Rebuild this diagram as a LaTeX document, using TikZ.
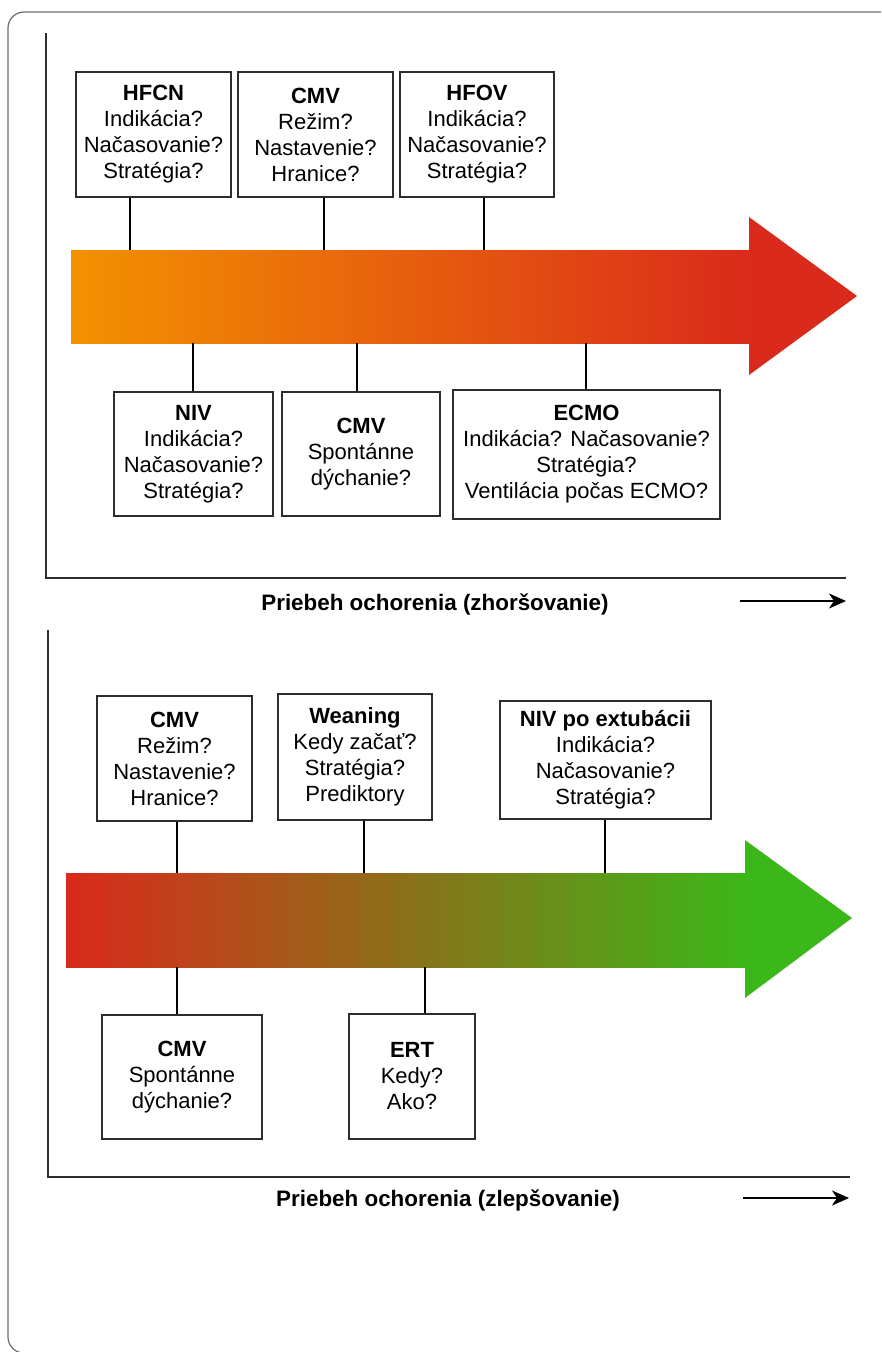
\documentclass[tikz,border=0pt]{standalone}
\usepackage{fontspec}
\setmainfont{Liberation Sans}
\usetikzlibrary{arrows.meta,calc}
\definecolor{orangeA}{RGB}{243,146,0}
\definecolor{redA}{RGB}{218,42,27}
\definecolor{greenA}{RGB}{60,183,25}
\definecolor{frameC}{RGB}{110,110,110}
\definecolor{axisC}{RGB}{45,45,45}
\begin{document}
\begin{tikzpicture}[x=1pt,y=-1pt,
  box/.style={draw=axisC, line width=1.3pt, fill=white, inner sep=0pt, align=center,
    font=\fontsize{22}{26}\selectfont},
  link/.style={draw=black, line width=1.1pt},
  axisline/.style={draw=axisC, line width=1.5pt},
  smallarrow/.style={draw=black, line width=1.6pt, -{Stealth[length=17pt,width=15pt,inset=5pt]}},
  axislabel/.style={font=\bfseries\fontsize{22.4}{25}\selectfont, inner sep=0pt}
]
\useasboundingbox (0,0) rectangle (881,1352);
\clip (0,0) rectangle (881,1352);
% outer frame
\draw[frameC, line width=1.2pt, rounded corners=16pt] (8,12) rectangle (1000,1353);

% ===== top panel =====
\coordinate (t1) at (46,33);
\coordinate (o1) at (46,578);
\coordinate (e1) at (846,578);
\draw[axisline] (t1) -- (o1) -- (e1);
\node[axislabel] (lab1) at (435,604) {Priebeh ochorenia (zhoršovanie)};
\coordinate (s1a) at (740,601);
\coordinate (s1b) at (846,601);
\draw[smallarrow] (s1a) -- (s1b);

% arrow 1
\shade[left color=orangeA, right color=redA] (71,250) rectangle (750,343);
\fill[redA] (749,217) -- (857,296) -- (749,375) -- cycle;

% boxes above
\node[box, minimum width=155pt, minimum height=125pt] (hfcn) at (153.5,134.5)
  {\textbf{HFCN}\\Indikácia?\\Načasovanie?\\Stratégia?};
\node[box, minimum width=155pt, minimum height=125pt] (cmvA) at (315.5,134.5)
  {\textbf{CMV}\\Režim?\\Nastavenie?\\Hranice?};
\node[box, minimum width=154pt, minimum height=125pt] (hfov) at (477,134.5)
  {\textbf{HFOV}\\Indikácia?\\Načasovanie?\\Stratégia?};
% boxes below
\node[box, minimum width=159pt, minimum height=124pt] (niv) at (193.5,454)
  {\textbf{NIV}\\Indikácia?\\Načasovanie?\\Stratégia?};
\node[box, minimum width=158pt, minimum height=124pt] (cmvB) at (361,454)
  {\textbf{CMV}\\Spontánne\\dýchanie?};
\node[box, minimum width=267pt, minimum height=129pt] (ecmo) at (586.5,454.5)
  {\textbf{ECMO}\\Indikácia? Načasovanie?\\Stratégia?\\Ventilácia počas ECMO?};

\coordinate (a1) at (130,250);
\coordinate (a2) at (324,250);
\coordinate (a3) at (484,250);
\coordinate (b1) at (193,343);
\coordinate (b2) at (357,343);
\coordinate (b3) at (586,343);
\draw[link] (hfcn.south -| a1) -- (a1);
\draw[link] (cmvA.south -| a2) -- (a2);
\draw[link] (hfov.south -| a3) -- (a3);
\draw[link] (b1) -- (niv.north -| b1);
\draw[link] (b2) -- (cmvB.north -| b2);
\draw[link] (b3) -- (ecmo.north -| b3);

% ===== bottom panel =====
\coordinate (t2) at (48,630);
\coordinate (o2) at (48,1177);
\coordinate (e2) at (850,1177);
\draw[axisline] (t2) -- (o2) -- (e2);
\node[axislabel] (lab2) at (448,1200) {Priebeh ochorenia (zlepšovanie)};
\coordinate (s2a) at (743,1198);
\coordinate (s2b) at (849,1198);
\draw[smallarrow] (s2a) -- (s2b);

% arrow 2
\shade[left color=redA, right color=greenA] (66,873) rectangle (746,967);
\fill[greenA] (745,840) -- (852,918) -- (745,998) -- cycle;

\node[box, minimum width=155pt, minimum height=125pt] (cmvC) at (174.5,758.5)
  {\textbf{CMV}\\Režim?\\Nastavenie?\\Hranice?};
\node[box, minimum width=154pt, minimum height=126pt] (wean) at (355,757)
  {\textbf{Weaning}\\Kedy začať?\\Stratégia?\\Prediktory};
\node[box, minimum width=211pt, minimum height=118pt] (nivext) at (605.5,760)
  {\textbf{NIV po extubácii}\\Indikácia?\\Načasovanie?\\Stratégia?};
\node[box, minimum width=160pt, minimum height=124pt] (cmvD) at (182,1077)
  {\textbf{CMV}\\Spontánne\\dýchanie?};
\node[box, minimum width=126pt, minimum height=125pt] (ert) at (412,1076.5)
  {\textbf{ERT}\\Kedy?\\Ako?};

\coordinate (c1) at (177,873);
\coordinate (c2) at (364,873);
\coordinate (c3) at (605,873);
\coordinate (d1) at (177,967);
\coordinate (d2) at (425,967);
\draw[link] (cmvC.south -| c1) -- (c1);
\draw[link] (wean.south -| c2) -- (c2);
\draw[link] (nivext.south -| c3) -- (c3);
\draw[link] (d1) -- (cmvD.north -| d1);
\draw[link] (d2) -- (ert.north -| d2);
\end{tikzpicture}
\end{document}
